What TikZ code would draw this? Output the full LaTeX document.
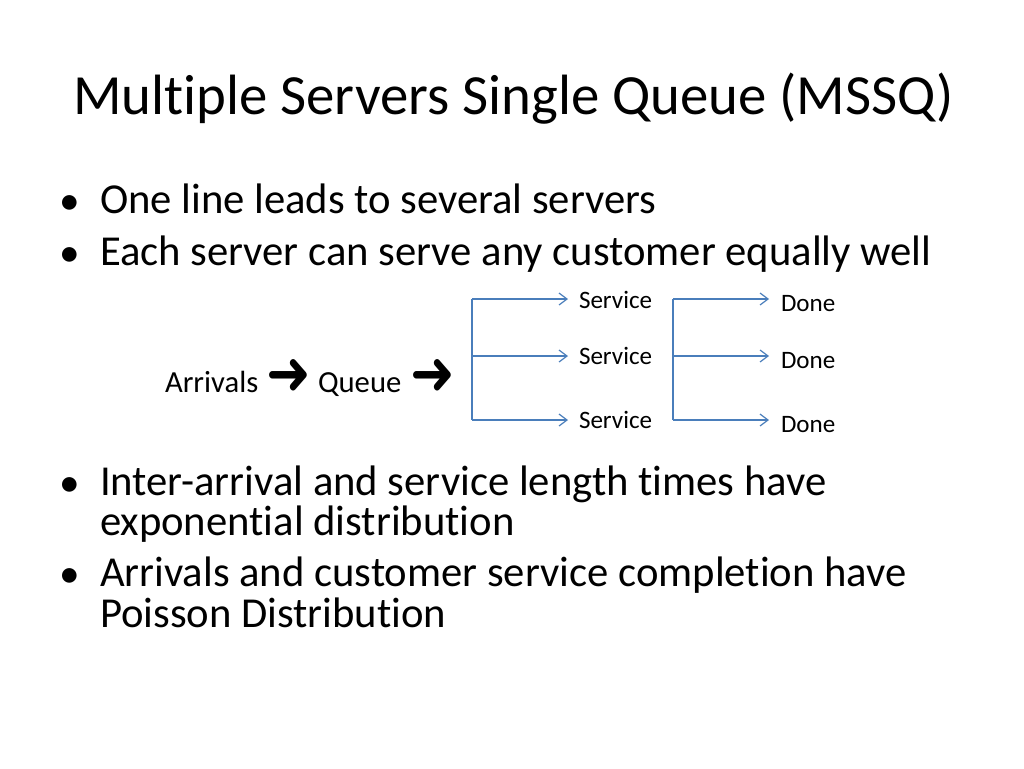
\documentclass[tikz,border=0pt]{standalone}
\usepackage{fontspec}
\setmainfont{Carlito}[Ligatures=NoCommon]
\newfontfamily\arrowfont{DejaVu Sans}
\usetikzlibrary{arrows.meta}
\definecolor{conn}{HTML}{4A7EBB}
\tikzset{
  txt/.style={anchor=base west, inner sep=0pt, outer sep=0pt},
  title/.style={txt, font=\fontsize{42.6}{50}\selectfont},
  bul/.style={txt, font=\fontsize{32}{38}\selectfont},
  dot/.style={inner sep=0pt, outer sep=0pt, font=\fontsize{31}{31}\selectfont},
  mid/.style={txt, font=\fontsize{23}{27}\selectfont},
  small/.style={txt, font=\fontsize{18.8}{22}\selectfont},
  glyph/.style={inner sep=0pt, outer sep=0pt, font=\fontsize{40}{40}\arrowfont},
  link/.style={draw=conn, line width=0.9pt, -{Straight Barb[length=6pt,width=9pt]}},
  rail/.style={draw=conn, line width=0.9pt},
}
\begin{document}
\begin{tikzpicture}[x=0.75pt,y=-0.75pt]
\useasboundingbox[fill=white] (0,0) rectangle (1024,768);
\node[title] (ttl) at (73,114) {Multiple Servers Single Queue (MSSQ)};
\node[dot] (d1) at (70,205) {•};
\node[bul] (l1) at (100,213) {One line leads to several servers};
\node[dot] (d2) at (70,257) {•};
\node[bul] (l2) at (100,265) {Each server can serve any customer equally well};
\node[dot] (d3) at (70,487) {•};
\node[bul] (l3a) at (100,495) {Inter-arrival and service length times have};
\node[bul] (l3b) at (100,535) {exponential distribution};
\node[dot] (d4) at (70,578) {•};
\node[bul] (l4a) at (100,586) {Arrivals and customer service completion have};
\node[bul] (l4b) at (100,627) {Poisson Distribution};

\node[mid] (arr) at (165,392) {Arrivals};
\node[glyph] (ar1) at (289,377) {\scalebox{1}[1.15]{➜}};
\node[mid] (que) at (318,392) {Queue};
\node[glyph] (ar2) at (433,377) {\scalebox{1}[1.15]{➜}};

\node[small] (sv1) at (579,308) {Service};
\node[small] (sv2) at (579,364) {Service};
\node[small] (sv3) at (579,428) {Service};
\node[small] (dn1) at (781,311) {Done};
\node[small] (dn2) at (781,368) {Done};
\node[small] (dn3) at (781,432) {Done};

\coordinate (b1) at (472,299);
\coordinate (b2) at (472,356);
\coordinate (b3) at (472,420);
\coordinate (c1) at (673,299);
\coordinate (c2) at (673,356);
\coordinate (c3) at (673,420);
\coordinate (t1) at (568,299);
\coordinate (t2) at (568,356);
\coordinate (t3) at (568,420);
\coordinate (u1) at (769,299);
\coordinate (u2) at (769,356);
\coordinate (u3) at (769,420);

\draw[rail] (b1) -- (b3);
\draw[rail] (c1) -- (c3);
\draw[link] (b1) -- (t1);
\draw[link] (b2) -- (t2);
\draw[link] (b3) -- (t3);
\draw[link] (c1) -- (u1);
\draw[link] (c2) -- (u2);
\draw[link] (c3) -- (u3);
\end{tikzpicture}
\end{document}
